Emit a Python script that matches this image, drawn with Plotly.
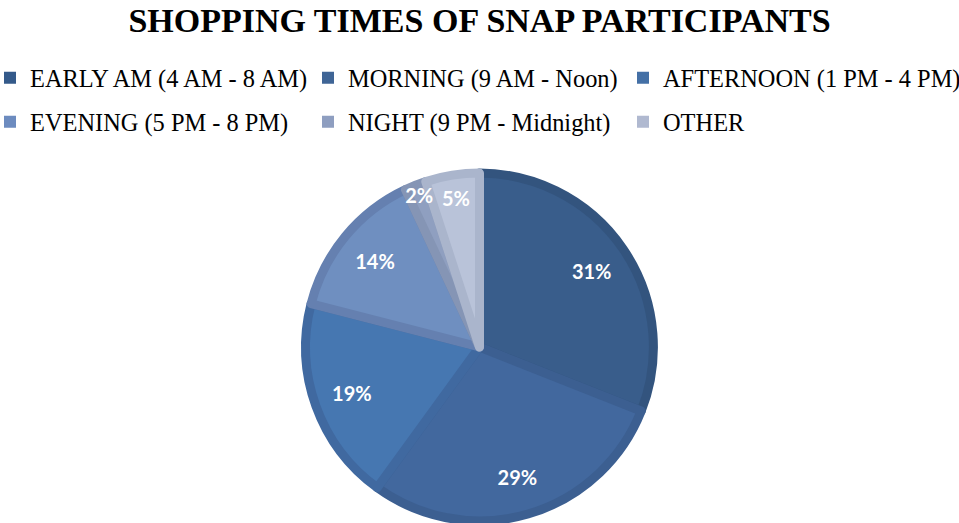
import plotly.graph_objects as go

categories = ["EARLY AM (4 AM - 8 AM)", "MORNING (9 AM - Noon)", "AFTERNOON (1 PM - 4 PM)",
              "EVENING (5 PM - 8 PM)", "NIGHT (9 PM - Midnight)", "OTHER"]
values = [31, 29, 19, 14, 2, 5]
fill_colors = ["#395D8B", "#42689E", "#4677B1", "#6F8FC0", "#8F9FC0", "#B9C3D9"]
edge_colors = ["#33547E", "#3C5F91", "#4069A0", "#6580B0", "#8595B5", "#AAB5CC"]
legend_colors = ["#345A8A", "#3F6596", "#4470A6", "#6C8BBF", "#8E9EC0", "#B0B9D0"]

W, H = 959, 523
pie_domain = dict(x=[0, 1], y=[0.004, 0.669])

fig = go.Figure()
# filled pie
fig.add_trace(go.Pie(
    labels=categories, values=values, sort=False, direction="clockwise", rotation=0,
    marker=dict(colors=fill_colors, line=dict(color=edge_colors, width=9)),
    textinfo="none", showlegend=False, domain=pie_domain, hoverinfo="label+percent",
))
# transparent ring carrying the percentage labels (places text further out)
fig.add_trace(go.Pie(
    labels=categories, values=values, sort=False, direction="clockwise", rotation=0,
    hole=0.56,
    marker=dict(colors=["rgba(0,0,0,0)"] * len(values), line=dict(width=0)),
    texttemplate="%{percent:.0%}", textposition="inside", insidetextorientation="horizontal",
    textfont=dict(family="Lato", size=20, color="white", weight="bold"),
    showlegend=False, domain=pie_domain, hoverinfo="skip",
))

# legend: 2 rows x 3 columns, one small legend per entry
col_px = [-10, 308, 623]   # left edge of each legend column (px)
row_px = [78, 122]         # vertical centre of each legend row (px)
legend_layouts = {}
for i, (name, col) in enumerate(zip(categories, legend_colors)):
    key = "legend" if i == 0 else f"legend{i + 1}"
    fig.add_trace(go.Scatter(
        x=[None], y=[None], mode="markers", name=name,
        marker=dict(symbol="square", size=12, color=col),
        legend=key,
    ))
    r, c = divmod(i, 3)
    legend_layouts[key] = dict(
        orientation="v", xanchor="left", x=col_px[c] / W,
        yanchor="middle", y=1 - row_px[r] / H,
        font=dict(family="Liberation Serif", size=24.4, color="black"),
        itemwidth=30, bgcolor="rgba(0,0,0,0)", itemclick=False, itemdoubleclick=False,
    )

fig.update_layout(
    width=W, height=H,
    margin=dict(l=0, r=0, t=0, b=0, autoexpand=False),
    paper_bgcolor="white", plot_bgcolor="white",
    xaxis=dict(visible=False), yaxis=dict(visible=False),
    title=dict(text="<b>SHOPPING TIMES OF SNAP PARTICIPANTS</b>", x=0.5, xanchor="center",
               y=0.962, yanchor="middle",
               font=dict(family="Liberation Serif", size=34, color="black")),
    uniformtext=dict(minsize=20, mode="show"),
    **legend_layouts,
)

fig.write_html("out.html")
